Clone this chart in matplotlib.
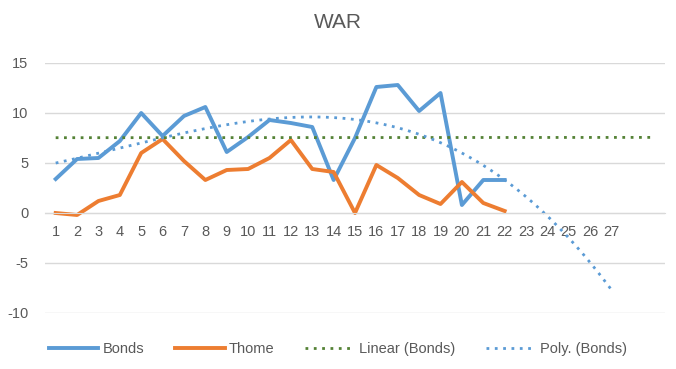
import numpy as np
import matplotlib
matplotlib.use("Agg")
import matplotlib.pyplot as plt

plt.rcParams['font.family'] = ['Liberation Sans', 'DejaVu Sans']
plt.rcParams['axes.unicode_minus'] = False

# data
games = np.arange(1, 23)
bonds = [3.4, 5.4, 5.5, 7.2, 10.0, 7.7, 9.7, 10.6, 6.1, 7.6, 9.3,
         9.0, 8.6, 3.3, 7.5, 12.6, 12.8, 10.2, 12.0, 0.8, 3.3, 3.3]
thome = [0.0, -0.2, 1.2, 1.8, 6.0, 7.4, 5.2, 3.3, 4.3, 4.4, 5.5,
         7.3, 4.4, 4.1, 0.0, 4.8, 3.5, 1.8, 0.9, 3.1, 1.0, 0.2]
xlabels = [str(i) for i in range(1, 28)]

blue = '#5B9BD5'
orange = '#ED7D31'
green = '#548235'
txt = '#595959'
grid = '#D9D9D9'

fig = plt.figure(figsize=(6.76, 3.69), dpi=100)
ax = fig.add_axes([45/676, 1-313/369, 620/676, 250/369])

# trendlines like excel
lin = np.polyfit(games, bonds, 1)
xl = np.linspace(1, 29, 100)
poly = np.polyfit(games, bonds, 3)
xp = np.linspace(1, 27, 200)

ax.plot(games, bonds, color=blue, lw=2.8, label='Bonds', solid_joinstyle='round')
ax.plot(games, thome, color=orange, lw=2.8, label='Thome', solid_joinstyle='round')
ax.plot(xl, np.polyval(lin, xl), color=green, lw=2, ls=(0, (1, 2)), label='Linear (Bonds)')
ax.plot(xp, np.polyval(poly, xp), color=blue, lw=2, ls=(0, (1, 2)), label='Poly. (Bonds)')

ax.set_xlim(0.5, 29.5)
ax.set_ylim(-10, 15)
ax.set_yticks([-10, -5, 0, 5, 10, 15])
ax.yaxis.grid(True, color=grid, lw=1)
ax.set_axisbelow(True)
ax.set_xticks(range(1, 28))
ax.set_xticklabels(xlabels)
ax.spines['bottom'].set_position(('data', 0))
ax.spines['bottom'].set_color(grid)
for s in ['left', 'right', 'top']:
    ax.spines[s].set_color('none')
ax.tick_params(axis='both', length=0, labelsize=10.5, colors=txt)
ax.tick_params(axis='x', pad=9)
ax.tick_params(axis='y', pad=12)

fig.text(0.5, 1-22/369, 'WAR', ha='center', va='center', fontsize=15, color=txt)
fig.legend(loc='center', bbox_to_anchor=(0.5, 1-349/369), ncol=4, frameon=False,
           fontsize=10.5, labelcolor=txt, handlelength=3.4, columnspacing=2.1,
           handletextpad=0.3)

fig.savefig('out.png', dpi=100)
